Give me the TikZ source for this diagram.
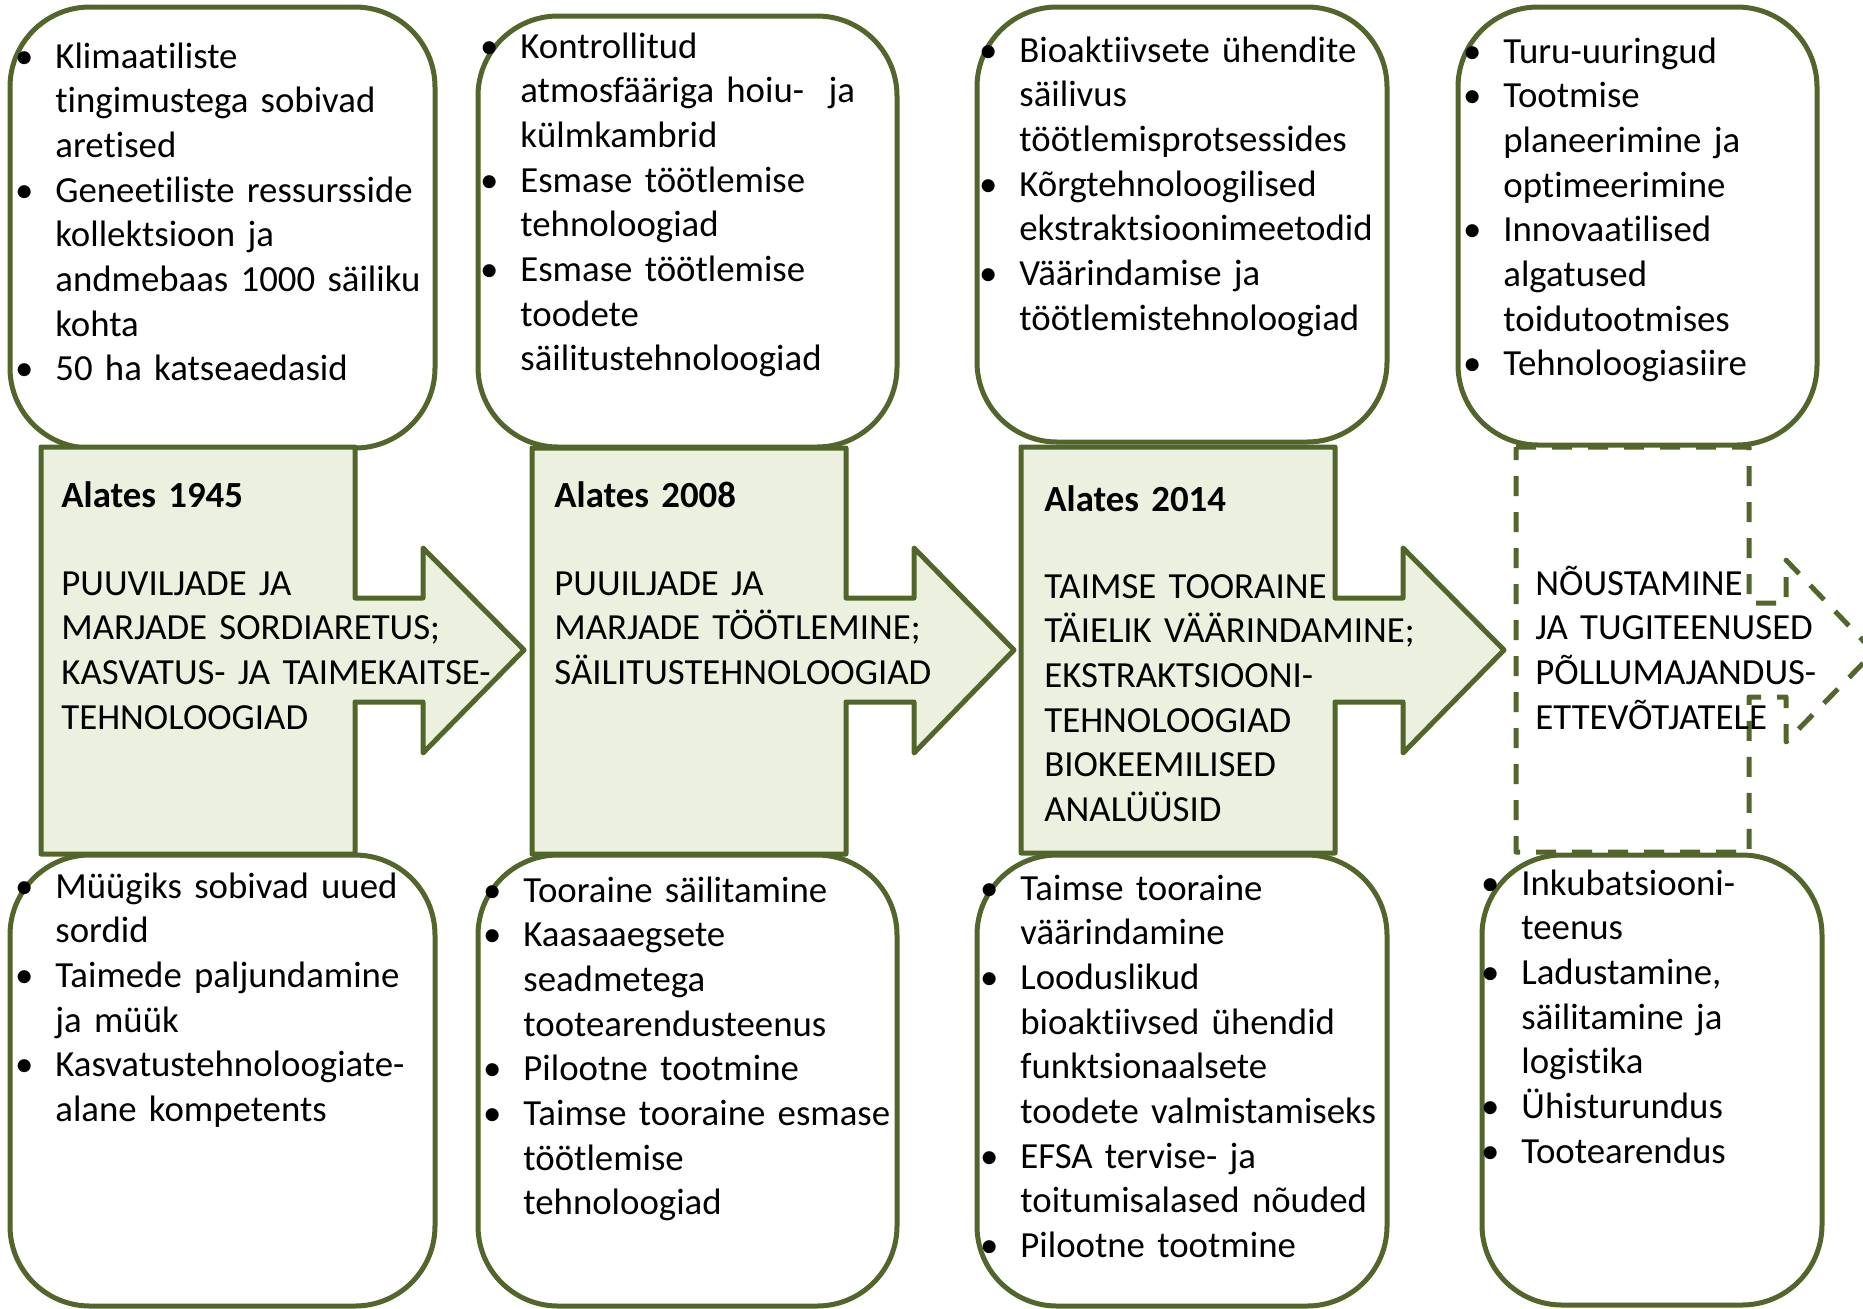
\documentclass[tikz,border=0pt]{standalone}
\usepackage{fontspec}
\setmainfont{Carlito}[Ligatures=NoCommon]
\definecolor{edgegreen}{RGB}{82,101,43}
\definecolor{fillgreen}{RGB}{235,241,222}
\tikzset{
  roundbox/.style={draw=edgegreen, line width=2.5pt, rounded corners=40pt, fill=white},
  arrowshape/.style={draw=edgegreen, line width=2.5pt, fill=fillgreen, line join=round},
  dasharrow/.style={draw=edgegreen, line width=2.5pt, dash pattern=on 10pt off 8pt, line join=round},
  txt/.style={anchor=base west, inner sep=0pt, text width=230pt, align=left,
              font=\fontsize{18.4}{22.35}\selectfont},
  hdr/.style={txt, font=\fontsize{18.4}{22.35}\selectfont\bfseries},
}
\newcommand{\bul}{\leavevmode\llap{•\hspace{11pt}}}
\begin{document}
\begin{tikzpicture}[x=0.5pt,y=-0.5pt]
\useasboundingbox (0,0) rectangle (1863,1308);
\clip (0,0) rectangle (1863,1308);

% top boxes
\draw[roundbox] (10,7) rectangle (435,448);
\draw[roundbox] (478,16) rectangle (897,447);
\draw[roundbox] (977,7) rectangle (1387,442);
\draw[roundbox] (1458,7) rectangle (1817,445);

% bottom boxes
\draw[roundbox] (10,855) rectangle (435,1306);
\draw[roundbox] (478,855) rectangle (897,1306);
\draw[roundbox] (977,855) rectangle (1387,1306);
\draw[roundbox] (1482,855) rectangle (1822,1305);

% arrows
\draw[arrowshape] (41,447) -- (355,447) -- (355,598) -- (423,598) -- (423,548) -- (524,650)
  -- (423,753) -- (423,702) -- (355,702) -- (355,854) -- (41,854) -- cycle;
\draw[arrowshape] (532,448) -- (846,448) -- (846,598) -- (914,598) -- (914,548) -- (1014,650)
  -- (914,753) -- (914,702) -- (846,702) -- (846,854) -- (532,854) -- cycle;
\draw[arrowshape] (1021,447) -- (1335,447) -- (1335,598) -- (1403,598) -- (1403,548) -- (1504,650)
  -- (1403,753) -- (1403,702) -- (1335,702) -- (1335,853) -- (1021,853) -- cycle;
\draw[dasharrow] (1516,447) -- (1749,447) -- (1749,603) -- (1786,603) -- (1786,560) -- (1874,652)
  -- (1786,742) -- (1786,697) -- (1749,697) -- (1749,852) -- (1516,852) -- cycle;

% top texts
\node[txt] (t1) at (55,68) {\bul Klimaatiliste\\tingimustega sobivad\\aretised\\
  \bul Geneetiliste ressursside\\kollektsioon ja\\andmebaas 1000 säiliku\\kohta\\
  \bul 50 ha katseaedasid};
\node[txt] (t2) at (520,58) {\bul Kontrollitud\\atmosfääriga hoiu-\ \ ja\\külmkambrid\\
  \bul Esmase töötlemise\\tehnoloogiad\\
  \bul Esmase töötlemise\\toodete\\säilitustehnoloogiad};
\node[txt] (t3) at (1019,62) {\bul Bioaktiivsete ühendite\\säilivus\\töötlemisprotsessides\\
  \bul Kõrgtehnoloogilised\\ekstraktsioonimeetodid\\
  \bul Väärindamise ja\\töötlemistehnoloogiad};
\node[txt] (t4) at (1503,63) {\bul Turu-uuringud\\\bul Tootmise\\planeerimine ja\\optimeerimine\\
  \bul Innovaatilised\\algatused\\toidutootmises\\\bul Tehnoloogiasiire};

% arrow texts
\node[hdr] (h1) at (61,507) {Alates 1945};
\node[txt] (a1) at (61,595) {PUUVILJADE JA\\MARJADE SORDIARETUS;\\KASVATUS- JA TAIMEKAITSE-\\TEHNOLOOGIAD};
\node[hdr] (h2) at (554,507) {Alates 2008};
\node[txt] (a2) at (554,595) {PUUILJADE JA\\MARJADE TÖÖTLEMINE;\\SÄILITUSTEHNOLOOGIAD};
\node[hdr] (h3) at (1044,511) {Alates 2014};
\node[txt] (a3) at (1044,598) {TAIMSE TOORAINE\\TÄIELIK VÄÄRINDAMINE;\\EKSTRAKTSIOONI-\\TEHNOLOOGIAD\\BIOKEEMILISED\\ANALÜÜSID};
\node[txt] (a4) at (1535,595) {NÕUSTAMINE\\JA TUGITEENUSED\\PÕLLUMAJANDUS-\\ETTEVÕTJATELE};

% bottom texts
\node[txt] (b1) at (55,898) {\bul Müügiks sobivad uued\\sordid\\\bul Taimede paljundamine\\ja müük\\
  \bul Kasvatustehnoloogiate-\\alane kompetents};
\node[txt] (b2) at (523,902) {\bul Tooraine säilitamine\\\bul Kaasaaegsete\\seadmetega\\tootearendusteenus\\
  \bul Pilootne tootmine\\\bul Taimse tooraine esmase\\töötlemise\\tehnoloogiad};
\node[txt] (b3) at (1020,900) {\bul Taimse tooraine\\väärindamine\\\bul Looduslikud\\bioaktiivsed ühendid\\
  funktsionaalsete\\toodete valmistamiseks\\\bul EFSA tervise- ja\\toitumisalased nõuded\\
  \bul Pilootne tootmine};
\node[txt] (b4) at (1521,895) {\bul Inkubatsiooni-\\teenus\\\bul Ladustamine,\\säilitamine ja\\logistika\\
  \bul Ühisturundus\\\bul Tootearendus};
\end{tikzpicture}
\end{document}
